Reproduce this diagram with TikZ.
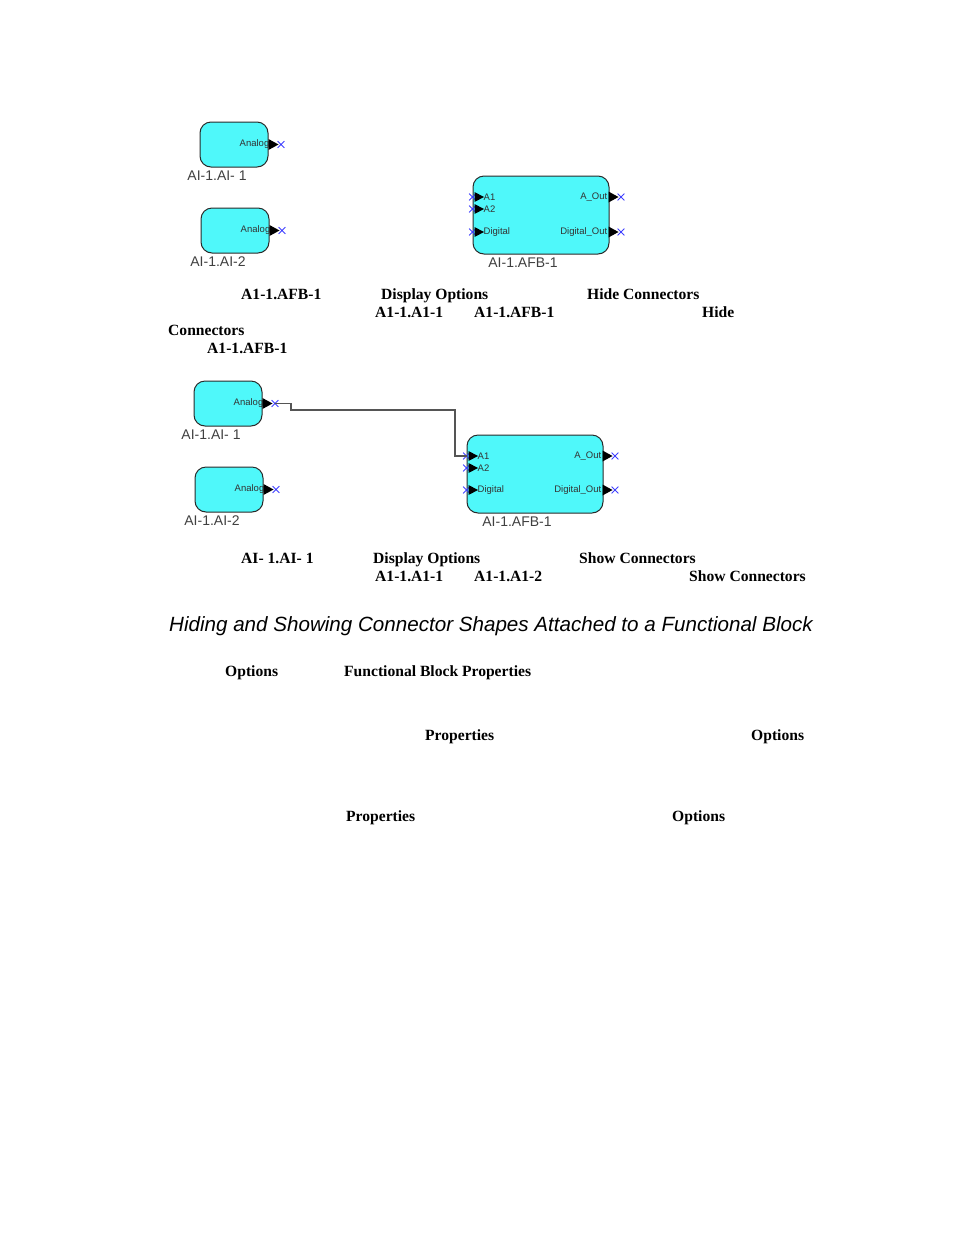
\documentclass[tikz,border=0pt]{standalone}
\usepackage{fontspec}
\setmainfont{Liberation Serif}
\setsansfont{Liberation Sans}
\usetikzlibrary{positioning}
\usetikzlibrary{shapes.misc}
\definecolor{fb-fill}{HTML}{4FF8FA}
\definecolor{fb-edge}{HTML}{2A2A2A}
\definecolor{fb-wire}{HTML}{555555}
\definecolor{fb-label}{HTML}{404040}
\newcommand{\captionfont}{\sffamily\itshape\fontsize{20.6}{22}\selectfont}

\begin{document}
\begin{tikzpicture}[x=1pt, y=-1pt, >=latex]

  % Global Style Definitions
  \tikzset{
    fblock/.style={draw=fb-edge, fill=fb-fill, rounded corners=11pt, line width=1pt, inner sep=0pt},
    aiblock/.style={fblock, minimum width=68pt, minimum height=45pt},
    afbblock/.style={fblock, minimum width=136pt, minimum height=78pt},
    blabel/.style={font=\sffamily\fontsize{14}{14}\selectfont, text=fb-label, inner sep=0pt},
    plabel/.style={font=\sffamily\fontsize{9.5}{10}\selectfont, text=black!80, inner sep=0pt},
    xmark/.style={cross out, draw=blue!75, minimum size=6pt, inner sep=0pt, line width=0.8pt},
    btext/.style={font=\bfseries\fontsize{15.6}{18}\selectfont, inner sep=0pt, anchor=base west},
    wire/.style={draw=fb-wire, line width=1.3pt},
    outport/.pic={\fill (0,-5.5) -- (10,0) -- (0,5.5) -- cycle; \node[xmark] at (12.5,0) {}; \coordinate (-tip) at (12.5,0);},
    inport/.pic={\node[xmark] at (0,0) {}; \coordinate (-tip) at (0,0); \fill (2,-5) -- (11.5,0) -- (2,5) -- cycle;}
  }

  \useasboundingbox (0,0) rectangle (954,1235);

  % Upper view: connectors hidden
  \node (ai1) [aiblock] at (234,144.5) {};
  \node (ai1lbl) [blabel, below=3pt of ai1.south, xshift=-17pt] {AI-1.AI- 1};
  \node [plabel, anchor=east] at ([xshift=1pt]ai1.east) {Analog};
  \pic (ai1p) at (ai1.east) {outport};

  \node (ai2) [aiblock] at (235,230.5) {};
  \node (ai2lbl) [blabel, below=3pt of ai2.south, xshift=-17pt] {AI-1.AI-2};
  \node [plabel, anchor=east] at ([xshift=1pt]ai2.east) {Analog};
  \pic (ai2p) at (ai2.east) {outport};

  \node (afb1) [afbblock] at (541,215) {};
  \node (afb1lbl) [blabel, below=3pt of afb1.south, xshift=-18pt] {AI-1.AFB-1};
  \pic (afb1a) at ([yshift=18pt]afb1.west) {inport};
  \pic (afb1b) at ([yshift=6pt]afb1.west) {inport};
  \pic (afb1d) at ([yshift=-17pt]afb1.west) {inport};
  \node [plabel, anchor=west] at ([xshift=11pt, yshift=18pt]afb1.west) {A1};
  \node [plabel, anchor=west] at ([xshift=11pt, yshift=6pt]afb1.west) {A2};
  \node [plabel, anchor=west] at ([xshift=11pt, yshift=-17pt]afb1.west) {Digital};
  \node [plabel, anchor=east] at ([xshift=-2pt, yshift=18pt]afb1.east) {A\_Out};
  \node [plabel, anchor=east] at ([xshift=-2pt, yshift=-17pt]afb1.east) {Digital\_Out};
  \pic (afb1o) at ([xshift=-1pt, yshift=18pt]afb1.east) {outport};
  \pic (afb1p) at ([xshift=-1pt, yshift=-17pt]afb1.east) {outport};

  % Text for the upper view
  \node (t1a) [btext] at (241,299) {A1-1.AFB-1};
  \node (t1b) [btext] at (381,299) {Display Options};
  \node (t1c) [btext] at (587,299) {Hide Connectors};
  \node (t2a) [btext] at (375,317) {A1-1.A1-1};
  \node (t2b) [btext] at (474,317) {A1-1.AFB-1};
  \node (t2c) [btext] at (702,317) {Hide};
  \node (t3a) [btext] at (168,335) {Connectors};
  \node (t4a) [btext] at (207,353) {A1-1.AFB-1};

  % Lower view: connectors shown and wired
  \node (ai3) [aiblock] at (228,403.5) {};
  \node (ai3lbl) [blabel, below=3pt of ai3.south, xshift=-17pt] {AI-1.AI- 1};
  \node [plabel, anchor=east] at ([xshift=1pt]ai3.east) {Analog};
  \pic (ai3p) at (ai3.east) {outport};

  \node (ai4) [aiblock] at (229,489.5) {};
  \node (ai4lbl) [blabel, below=3pt of ai4.south, xshift=-17pt] {AI-1.AI-2};
  \node [plabel, anchor=east] at ([xshift=1pt]ai4.east) {Analog};
  \pic (ai4p) at (ai4.east) {outport};

  \node (afb2) [afbblock] at (535,474) {};
  \node (afb2lbl) [blabel, below=3pt of afb2.south, xshift=-18pt] {AI-1.AFB-1};
  \pic (afb2a) at ([yshift=18pt]afb2.west) {inport};
  \pic (afb2b) at ([yshift=6pt]afb2.west) {inport};
  \pic (afb2d) at ([yshift=-16pt]afb2.west) {inport};
  \node [plabel, anchor=west] at ([xshift=11pt, yshift=18pt]afb2.west) {A1};
  \node [plabel, anchor=west] at ([xshift=11pt, yshift=6pt]afb2.west) {A2};
  \node [plabel, anchor=west] at ([xshift=11pt, yshift=-16pt]afb2.west) {Digital};
  \node [plabel, anchor=east] at ([xshift=-2pt, yshift=18pt]afb2.east) {A\_Out};
  \node [plabel, anchor=east] at ([xshift=-2pt, yshift=-16pt]afb2.east) {Digital\_Out};
  \pic (afb2o) at ([xshift=-1pt, yshift=18pt]afb2.east) {outport};
  \pic (afb2p) at ([xshift=-1pt, yshift=-16pt]afb2.east) {outport};

  % Wire from Analog to A1
  \coordinate (bend1) at (291,410);
  \coordinate (bend2) at (455,410);
  \draw[wire] (ai3p-tip) -| (bend1) -- (bend2) |- (afb2a-tip);

  % Text for the lower view
  \node (t5a) [btext] at (241,563) {AI- 1.AI- 1};
  \node (t5b) [btext] at (373,563) {Display Options};
  \node (t5c) [btext] at (579,563) {Show Connectors};
  \node (t6a) [btext] at (375,581) {A1-1.A1-1};
  \node (t6b) [btext] at (474,581) {A1-1.A1-2};
  \node (t6c) [btext] at (689,581) {Show Connectors};

  % Caption
  \node (cap) [inner sep=0pt, anchor=base west, font=\captionfont] at (169,631) {Hiding and Showing Connector Shapes Attached to a Functional Block};

  % Remaining text
  \node (t7a) [btext] at (225,676) {Options};
  \node (t7b) [btext] at (344,676) {Functional Block Properties};
  \node (t8a) [btext] at (425,740) {Properties};
  \node (t8b) [btext] at (751,740) {Options};
  \node (t9a) [btext] at (346,821) {Properties};
  \node (t9b) [btext] at (672,821) {Options};

\end{tikzpicture}
\end{document}
